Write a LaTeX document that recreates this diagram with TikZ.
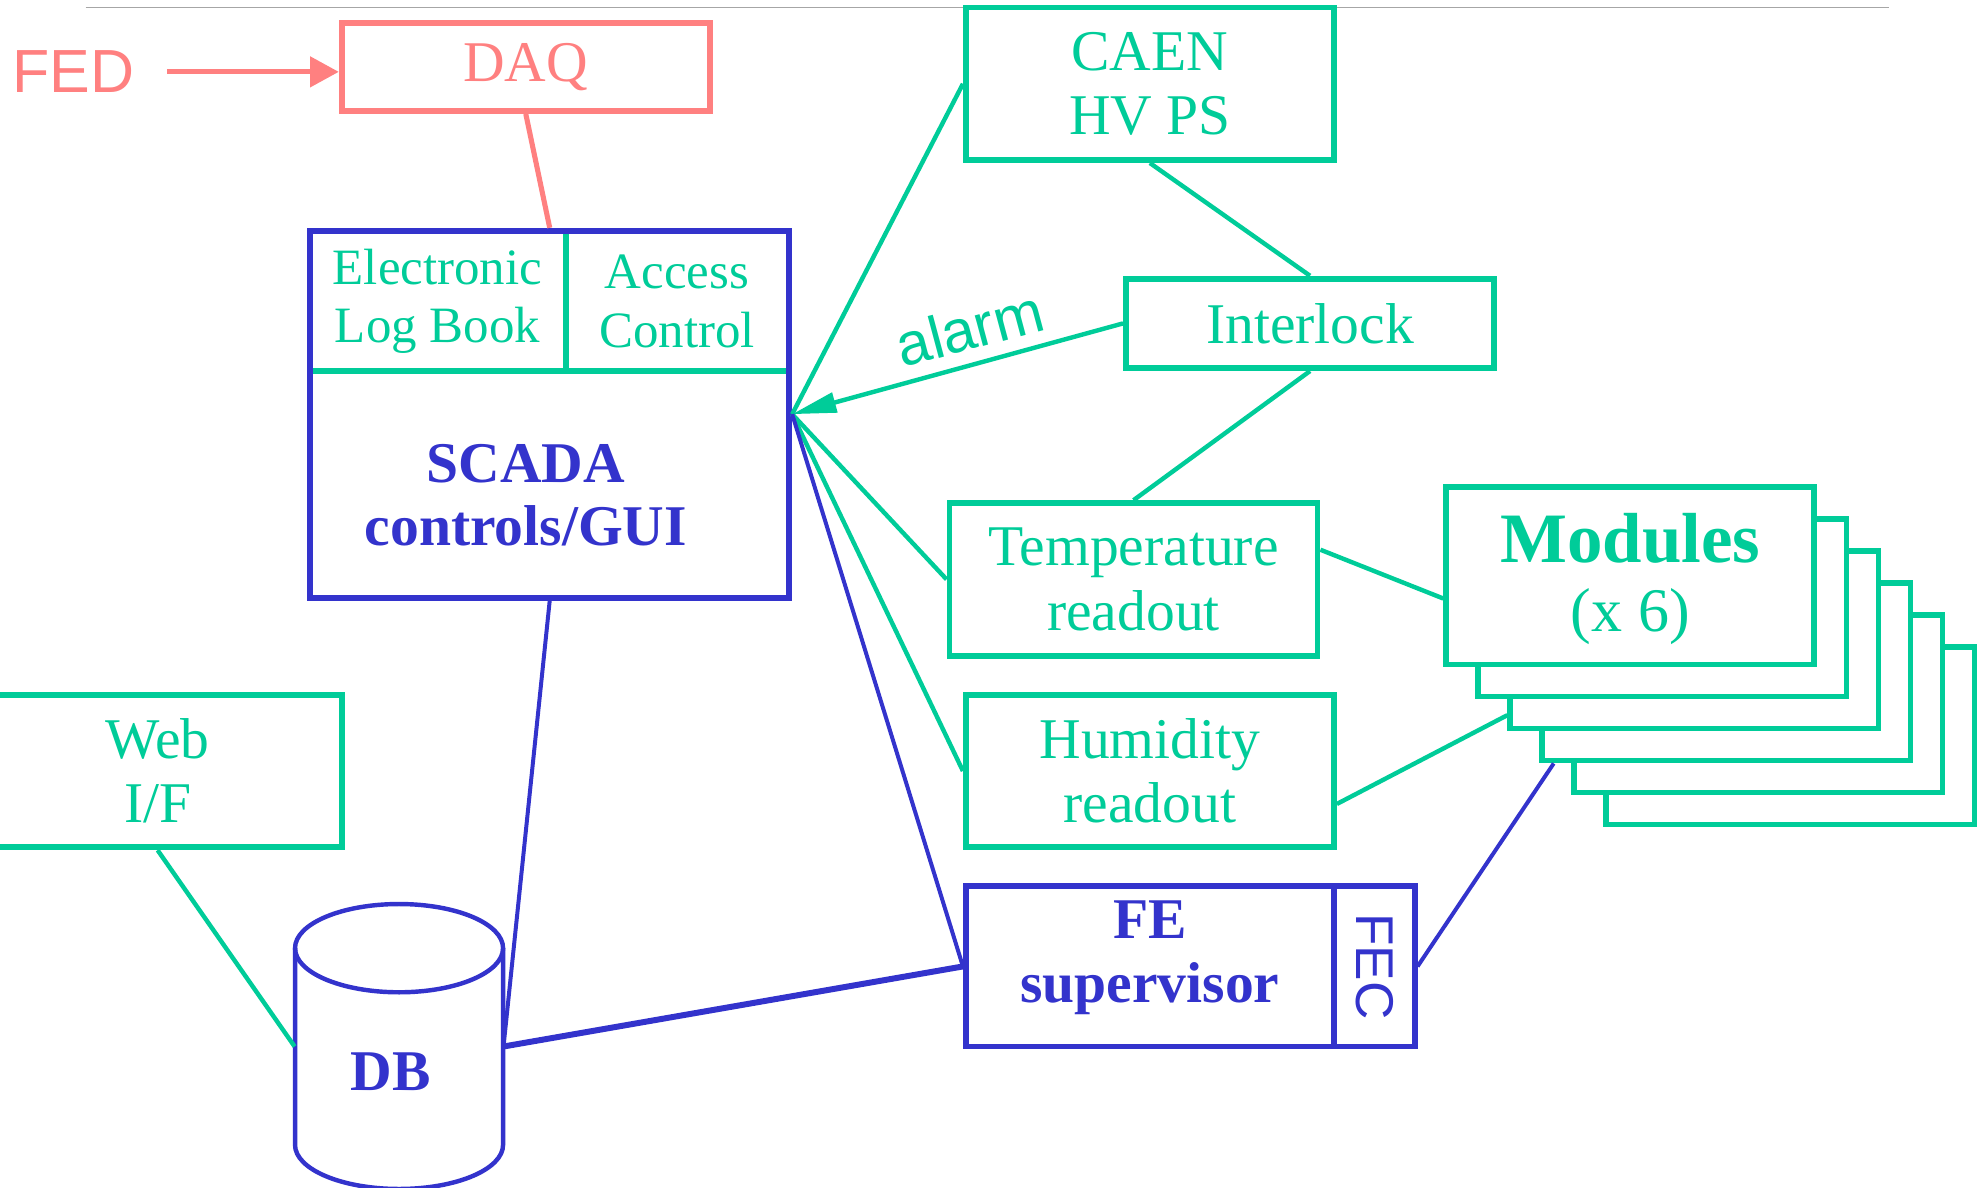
\documentclass[tikz,border=0pt]{standalone}
\usepackage{fontspec}
\setmainfont{Liberation Serif}
\setsansfont{Liberation Sans}
\usetikzlibrary{arrows.meta,fit,calc}
\definecolor{grn}{RGB}{0,204,153}
\definecolor{blu}{RGB}{51,51,204}
\definecolor{pnk}{RGB}{255,128,128}

\begin{document}
\begin{tikzpicture}[x=0.02cm,y=-0.02cm,
  box/.style={draw, line width=2.6pt, inner sep=0pt},
  gbox/.style={box, draw=grn},
  bbox/.style={box, draw=blu},
  pbox/.style={box, draw=pnk},
  gline/.style={draw=grn, line width=2pt},
  bline/.style={draw=blu, line width=1.8pt},
  pline/.style={draw=pnk, line width=2.3pt},
  label/.style={inner sep=0pt, align=center, font=\fontsize{26}{29}\selectfont},
  glabel/.style={label, text=grn},
  blabel/.style={label, text=blu, font=\bfseries\fontsize{26}{29}\selectfont},
]
\useasboundingbox (0,0) rectangle (1568,942);

% rule at the top
\draw[gray!70, line width=0.6pt] (68,6) -- (1498,6);

% data acquisition
\node[label, text=pnk, font=\sffamily\fontsize{27.5}{30}\selectfont] (fed) at (58,57) {FED};
\node[pbox, fit={(271,18)(563,88)}] (daq) {};
\node[label, text=pnk] (daqtxt) at (daq.center) {DAQ};

% SCADA block with its two sub-panels
\node[bbox, fit={(246,183)(626,474)}] (scada) {};
\draw[grn, line width=2.6pt] (247,294) -- (625,294);
\draw[grn, line width=2.6pt] (449,184) -- (449,294);
\node[bbox, fit={(246,183)(626,474)}] {};
\node[glabel, font=\fontsize{23}{26.5}\selectfont] (elog) at (347,239) {Electronic\\Log Book};
\node[glabel, font=\fontsize{23}{26.5}\selectfont] (acc) at (537,239) {Access\\Control};
\node[blabel, font=\bfseries\fontsize{26}{28.5}\selectfont] (scadatxt) at (417,393) {SCADA\\controls/GUI};

% hardware side
\node[gbox, fit={(766,6)(1058,127)}] (caen) {};
\node[glabel] (caentxt) at (caen.center) {CAEN\\HV PS};
\node[gbox, fit={(893,221)(1185,292)}] (inter) {};
\node[glabel] (intertxt) at (inter.center) {Interlock};
\node[gbox, fit={(753,399)(1045,520)}] (temp) {};
\node[glabel] (temptxt) at (temp.center) {Temperature\\readout};
\node[gbox, fit={(766,551)(1058,672)}] (hum) {};
\node[glabel] (humtxt) at (hum.center) {Humidity\\readout};
\node[bbox, fit={(766,703)(1058,830)}] (fe) {};
\node[blabel] (fetxt) at ([yshift=4]fe.center) {FE\\supervisor};
\node[bbox, fit={(1058,703)(1122,830)}] (fec) {};
\node[label, text=blu, rotate=-90, font=\sffamily\fontsize{24}{26}\selectfont] (fectxt) at (fec.center) {FEC};

% stack of six modules, back to front
\foreach \k in {5,4,...,0}{
  \node[gbox, fill=white, fit={({1147+25.4*\k},{386+25.4*\k})({1439+25.4*\k},{527+25.4*\k})}] (mod\k) {};
}
\node[glabel, font=\bfseries\fontsize{32}{34}\selectfont] (modtxt) at (1293,427) {Modules};
\node[glabel, font=\fontsize{28}{30}\selectfont] (modnum) at (1293,489) {(x 6)};

% web interface and database
\node[gbox, fit={(-21,551)(271,672)}] (web) {};
\node[glabel] (webtxt) at (web.center) {Web\\I/F};
\node[inner sep=0pt, fit={(234,752)(399,908)}] (db) {};
\draw[blu, line width=2pt, fill=white]
  (234,752) -- (234,908) arc[start angle=180, end angle=0, x radius=82.5, y radius=35] -- (399,752);
\draw[blu, line width=2pt] (316.5,752) ellipse[x radius=82.5, y radius=35];
\node[blabel] (dbtxt) at (310,850) {DB};

% connectors
\draw[pline, -{Triangle[length=13pt, width=13.5pt]}] (fed.east) ++(26,0) -- (daq.west |- fed.east);
\draw[pline] (daq.south) -- (scada.north);

\draw[gline] (scada.east) -- (caen.west);
\draw[gline, -{Triangle[length=20pt, width=9pt]}] (inter.west) -- (scada.east);
\draw[gline] (scada.east) -- (temp.west);
\draw[gline] (scada.east) -- (hum.west);
\draw[bline] (scada.east) -- (fe.west);

\draw[gline] (caen.south) -- (inter.north);
\draw[gline] (inter.south) -- (temp.north);
\draw[gline] (temp.9) -- (mod0.187);
\draw[gline] (hum.-10) -- (mod2.202);
\draw[bline] (fec.east) -- (mod3.208);

\draw[bline] (scada.south) -- (db.east);
\draw[blu, line width=2.7pt] (fe.west) -- (db.east);
\draw[gline] (web.south) -- (db.west);

\node[glabel, rotate=15, font=\sffamily\fontsize{27}{29}\selectfont] (alarm) at (769,260) {alarm};
\end{tikzpicture}
\end{document}
